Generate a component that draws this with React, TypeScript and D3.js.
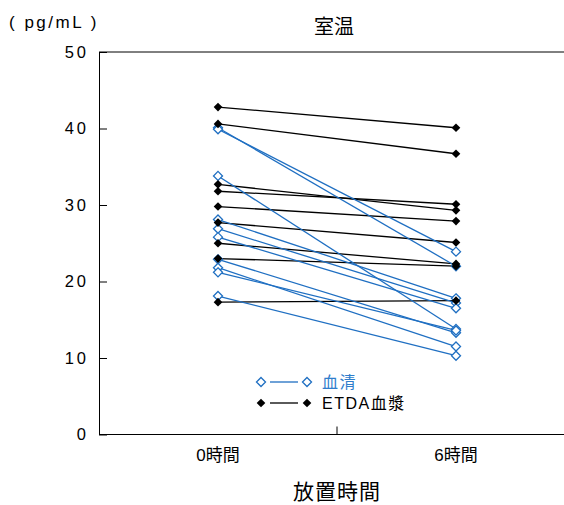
import React, { useRef, useEffect } from "react";
import * as d3 from "d3";

const times = ["0時間", "6時間"];
const yTicks = [0, 10, 20, 30, 40, 50];

// [0h, 6h] pairs
const serum = [
  [40.1, 22.0],
  [39.9, 23.9],
  [33.8, 13.8],
  [28.1, 17.8],
  [26.9, 17.2],
  [25.8, 16.5],
  [22.9, 13.3],
  [21.8, 11.5],
  [21.2, 13.6],
  [18.1, 10.3],
];
const plasma = [
  [42.8, 40.1],
  [40.6, 36.7],
  [32.7, 29.3],
  [31.8, 30.1],
  [29.8, 27.9],
  [27.7, 25.1],
  [25.0, 22.3],
  [23.0, 22.0],
  [17.3, 17.5],
];

const BLUE = "#1f6fc2";
const FONT = "'Liberation Sans', 'Noto Sans CJK JP', sans-serif";

function App() {
  const ref = useRef(null);

  useEffect(() => {
    const svg = d3.select(ref.current);
    svg.selectAll("*").remove();

    const left = 99, top = 52, bottom = 434.5, right = 575;
    const x = d3.scaleBand().domain(times).range([left, right]);
    const cx = (t) => x(t) + x.bandwidth() / 2;
    const y = d3.scaleLinear().domain([0, 50]).range([bottom, top]);

    svg.style("font-family", FONT);

    // frame (top line)
    svg.append("line")
      .attr("x1", left).attr("x2", 564)
      .attr("y1", top).attr("y2", top)
      .attr("stroke", "#000").attr("stroke-width", 1);

    const yAxis = svg.append("g")
      .attr("transform", `translate(${left},0)`)
      .call(d3.axisLeft(y).tickValues(yTicks).tickSizeInner(-8).tickSizeOuter(0).tickPadding(10));
    yAxis.select(".domain").attr("stroke", "#000");
    yAxis.selectAll("text")
      .style("font-size", "16.5px")
      .style("letter-spacing", "3px")
      .style("font-family", FONT)
      .attr("fill", "#000");

    const xAxis = svg.append("g")
      .attr("transform", `translate(0,${bottom})`)
      .call(d3.axisBottom(x).tickSize(0).tickPadding(14));
    xAxis.select(".domain").attr("d", `M${left},0H564`).attr("stroke", "#000");
    xAxis.selectAll("text")
      .style("font-size", "17px")
      .style("font-family", FONT)
      .attr("fill", "#000");

    // divider tick between the two groups
    svg.append("line")
      .attr("x1", x(times[1])).attr("x2", x(times[1]))
      .attr("y1", bottom - 8).attr("y2", bottom)
      .attr("stroke", "#000");

    const line = d3.line()
      .x((d, i) => cx(times[i]))
      .y((d) => y(d));

    const diamond = d3.symbol().type(d3.symbolDiamond2);

    // plasma lines
    svg.append("g").selectAll("path")
      .data(plasma).join("path")
      .attr("d", line).attr("fill", "none")
      .attr("stroke", "#000").attr("stroke-width", 1.3);

    // serum lines
    svg.append("g").selectAll("path")
      .data(serum).join("path")
      .attr("d", line).attr("fill", "none")
      .attr("stroke", BLUE).attr("stroke-width", 1.3);

    const serumPts = serum.flatMap((p) => p.map((v, i) => [cx(times[i]), y(v)]));
    const plasmaPts = plasma.flatMap((p) => p.map((v, i) => [cx(times[i]), y(v)]));

    svg.append("g").selectAll("path")
      .data(serumPts).join("path")
      .attr("d", diamond.size(52)())
      .attr("transform", (d) => `translate(${d[0]},${d[1]})`)
      .attr("fill", "#fff").attr("stroke", BLUE).attr("stroke-width", 1.3);

    svg.append("g").selectAll("path")
      .data(plasmaPts).join("path")
      .attr("d", diamond.size(48)())
      .attr("transform", (d) => `translate(${d[0]},${d[1]})`)
      .attr("fill", "#000");

    // legend
    const legend = [
      { label: "血清", color: BLUE, open: true, y: 382 },
      { label: "ETDA血漿", color: "#000", open: false, y: 403 },
    ];
    const lg = svg.append("g");
    legend.forEach((l) => {
      lg.append("line")
        .attr("x1", 270).attr("x2", 298)
        .attr("y1", l.y).attr("y2", l.y)
        .attr("stroke", l.color).attr("stroke-width", 1.3);
      [261, 307].forEach((px) => {
        lg.append("path")
          .attr("d", diamond.size(l.open ? 52 : 48)())
          .attr("transform", `translate(${px},${l.y})`)
          .attr("fill", l.open ? "#fff" : "#000")
          .attr("stroke", l.open ? l.color : "none")
          .attr("stroke-width", 1.3);
      });
      lg.append("text")
        .attr("x", 322).attr("y", l.y + 6)
        .attr("fill", l.open ? "#2f7dcc" : "#000")
        .style("font-size", "16px")
        .style("letter-spacing", "1.5px")
        .text(l.label);
    });

    // titles
    svg.append("text")
      .attr("x", 9).attr("y", 28)
      .style("font-size", "17px")
      .style("letter-spacing", "2.5px")
      .text("( pg/mL )");

    svg.append("text")
      .attr("x", 334).attr("y", 34)
      .attr("text-anchor", "middle")
      .style("font-size", "20px")
      .text("室温");

    svg.append("text")
      .attr("x", 337).attr("y", 499)
      .attr("text-anchor", "middle")
      .style("font-size", "21px")
      .style("letter-spacing", "1px")
      .text("放置時間");
  }, []);

  return (
    <svg
      ref={ref}
      width="564"
      height="505"
      style={{ position: "absolute", left: 0, top: 0 }}
    ></svg>
  );
}

export default App;
